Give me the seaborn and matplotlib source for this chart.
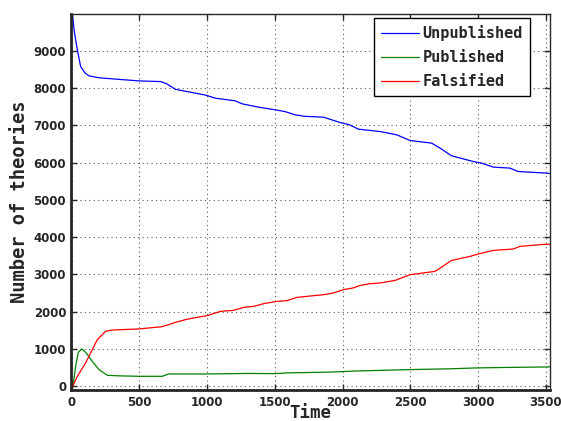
import pandas as pd
import seaborn as sns
import matplotlib.pyplot as plt

## data

unpub_t = [0, 5, 20, 42, 66, 100, 128, 200, 300, 496, 656, 700, 766, 850, 987, 1061, 1208, 1258,
           1380, 1503, 1577, 1650, 1720, 1859, 1982, 2050, 2117, 2277, 2400, 2498, 2658, 2719,
           2805, 2965, 3026, 3112, 3235, 3296, 3505, 3530]
unpub_n = [10000, 10000, 9500, 9025, 8580, 8400, 8330, 8280, 8250, 8195, 8177, 8120, 7970, 7910,
           7815, 7730, 7660, 7580, 7490, 7420, 7370, 7285, 7245, 7222, 7078, 7020, 6900, 6837,
           6748, 6596, 6525, 6392, 6185, 6032, 5990, 5882, 5855, 5764, 5721, 5710]

pub_t = [0, 10, 29, 49, 74, 103, 152, 201, 263, 350, 496, 668, 717, 840, 1000, 1300, 1503, 1600,
         1900, 2100, 2498, 2800, 2990, 3200, 3530]
pub_n = [0, 20, 536, 912, 1000, 912, 670, 448, 295, 280, 268, 268, 332, 330, 330, 345, 340, 360,
         380, 410, 448, 470, 493, 505, 520]

fals_t = [0, 10, 42, 103, 189, 250, 300, 496, 668, 766, 840, 901, 999, 1098, 1196, 1270, 1343,
          1417, 1516, 1589, 1663, 1859, 1933, 2006, 2080, 2129, 2203, 2277, 2388, 2498, 2682,
          2732, 2805, 2940, 3002, 3063, 3112, 3260, 3309, 3481, 3530]
fals_n = [0, 20, 270, 627, 1252, 1475, 1510, 1539, 1600, 1716, 1788, 1834, 1895, 2011, 2038,
          2118, 2145, 2217, 2279, 2298, 2386, 2458, 2504, 2593, 2640, 2705, 2753, 2772, 2842,
          2995, 3083, 3200, 3378, 3485, 3550, 3603, 3646, 3684, 3754, 3807, 3812]

series = ['Unpublished', 'Published', 'Falsified']
colors = ['#0000ff', '#008000', '#ff0000']

frames = []
for name, t, n in zip(series, [unpub_t, pub_t, fals_t], [unpub_n, pub_n, fals_n]):
    frames.append(pd.DataFrame({'Time': t, 'count': n, 'kind': name}))
df = pd.concat(frames, ignore_index=True)

sns.set_style('ticks')
mono = 'DejaVu Sans Mono'

fig = plt.figure(figsize=(5.61, 4.21), dpi=100)
ax = fig.add_axes([0.1266, 0.0736, 0.8534, 0.8931])

sns.lineplot(data=df, x='Time', y='count', hue='kind', palette=colors,
             hue_order=series, linewidth=0.9, ax=ax, estimator=None, sort=False)

ax.set_xlim(-5, 3530)
ax.set_ylim(-100, 9990)
ax.set_xticks(range(0, 3501, 500))
ax.set_yticks(range(0, 9001, 1000))
ax.grid(True, linestyle=(0, (1, 3)), color='#555555', linewidth=0.8)
ax.tick_params(direction='in', length=4, width=1, top=True, right=True, labelsize=8.5)
ax.tick_params(axis='x', pad=4.5)
for lab in ax.get_xticklabels() + ax.get_yticklabels():
    lab.set_fontweight('bold')
    lab.set_family('DejaVu Sans')

for s in ['top', 'right']:
    ax.spines[s].set_linewidth(1.0)
for s in ['left', 'bottom']:
    ax.spines[s].set_linewidth(2.0)

ax.set_xlabel('Time', fontsize=12.5, fontweight='bold', family=mono, labelpad=-3.5)
ax.set_ylabel('Number of theories', fontsize=13.5, fontweight='bold', family=mono, labelpad=3)

leg = ax.legend(loc='upper right', bbox_to_anchor=(0.958, 0.989), borderaxespad=0,
                prop={'family': mono, 'weight': 'bold', 'size': 11},
                frameon=True, fancybox=False, edgecolor='black', framealpha=1,
                handlelength=2.5, labelspacing=0.6, handletextpad=0.2, borderpad=0.45)
leg.get_frame().set_linewidth(1.0)
leg.set_title(None)

fig.savefig('out.png', dpi=100)
